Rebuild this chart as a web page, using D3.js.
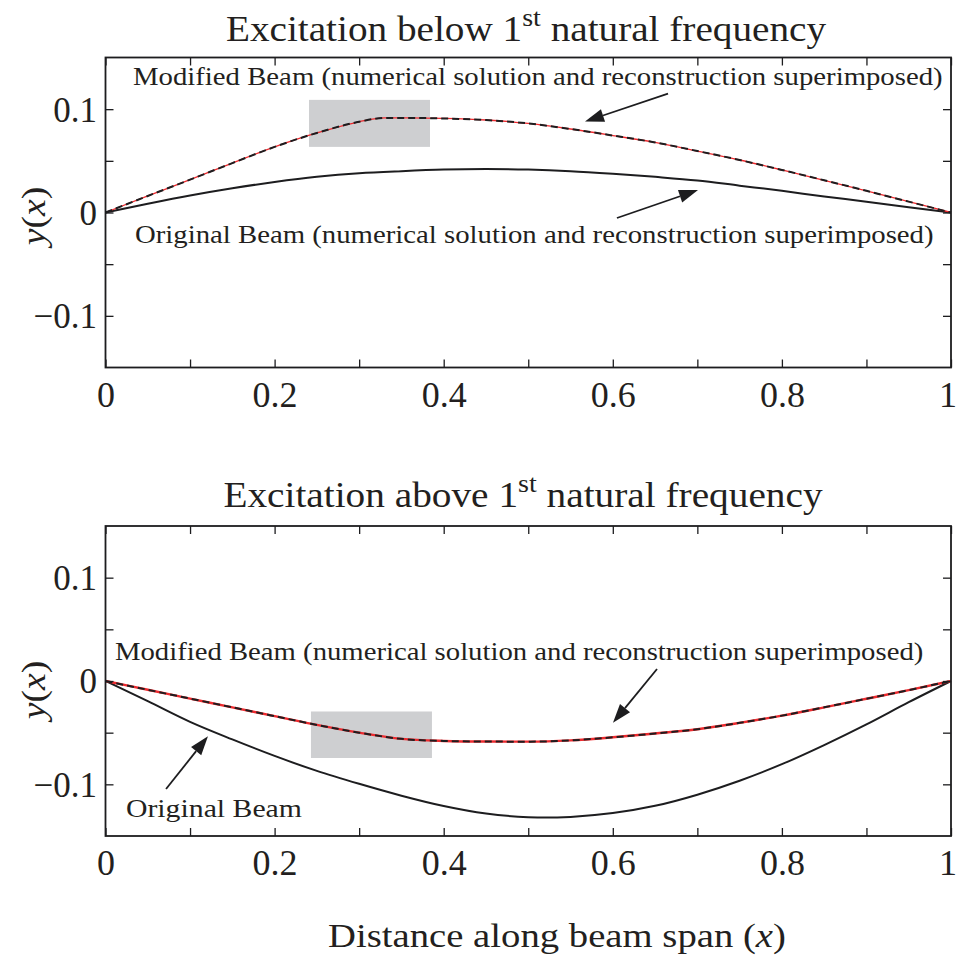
<!DOCTYPE html>
<html>
<head>
<meta charset="utf-8">
<script src="https://cdn.jsdelivr.net/npm/d3@7"></script>
<style>
  body { margin: 0; background: #fff; }
  svg { display: block; }
  text { font-family: "Liberation Serif", "Times New Roman", serif; fill: #231f20; }
</style>
</head>
<body>
<svg id="chart" width="957" height="962"></svg>
<script>
// ---- data -------------------------------------------------------------
// shared span positions (fraction of beam length)
const spanX = [0, 0.05, 0.1, 0.15, 0.2, 0.25, 0.3, 0.35, 0.4, 0.45, 0.5,
               0.55, 0.6, 0.65, 0.7, 0.75, 0.8, 0.85, 0.9, 0.95, 1];

// excitation below the 1st natural frequency
const belowOriginalY = [0, 0.0085, 0.0165, 0.0235, 0.0295, 0.0345, 0.0380, 0.0400, 0.0415, 0.0420, 0.0415,
                        0.0400, 0.0375, 0.0345, 0.0310, 0.0260, 0.0210, 0.0155, 0.0105, 0.0050, 0];
const belowModifiedX = [0, 0.05, 0.1, 0.15, 0.2, 0.25, 0.3, 0.33, 0.36, 0.4, 0.45, 0.5,
                        0.55, 0.6, 0.65, 0.7, 0.75, 0.8, 0.85, 0.9, 0.95, 1];
const belowModifiedY = [0, 0.0160, 0.0318, 0.0478, 0.0635, 0.0770, 0.0878, 0.0915, 0.0915, 0.0910, 0.0895, 0.0862,
                        0.0808, 0.0745, 0.0678, 0.0595, 0.0508, 0.0412, 0.0312, 0.0210, 0.0105, 0];

// excitation above the 1st natural frequency
const aboveOriginalX = [0, 0.05, 0.1, 0.15, 0.2, 0.25, 0.3, 0.35, 0.4, 0.45, 0.5, 0.52,
                        0.55, 0.6, 0.65, 0.7, 0.75, 0.8, 0.85, 0.9, 0.95, 1];
const aboveOriginalY = [0, -0.0195, -0.0395, -0.0565, -0.0725, -0.0870, -0.0995, -0.1110, -0.1210, -0.1283, -0.1318, -0.1322,
                        -0.1315, -0.1278, -0.1208, -0.1100, -0.0965, -0.0805, -0.0620, -0.0420, -0.0205, 0];
const aboveModifiedY = [0, -0.0085, -0.0170, -0.0255, -0.0340, -0.0425, -0.0500, -0.0560, -0.0580, -0.0586, -0.0587,
                        -0.0575, -0.0545, -0.0508, -0.0467, -0.0405, -0.0335, -0.0255, -0.0172, -0.0088, 0];

// modified-segment regions [x0, x1, y0, y1]
const belowSegment = [0.2407, 0.3838, 0.0635, 0.109];
const aboveSegment = [0.2430, 0.3861, -0.0745, -0.0295];

// axes
const xDomain = [0, 1];
const yDomain = [-0.15, 0.15];
const xTickValues = [0, 0.1, 0.2, 0.3, 0.4, 0.5, 0.6, 0.7, 0.8, 0.9, 1];
const xTickLabels = { 0: "0", 0.2: "0.2", 0.4: "0.4", 0.6: "0.6", 0.8: "0.8", 1: "1" };
const yTickValues = [-0.1, -0.05, 0, 0.05, 0.1];
const yTickLabels = { "-0.1": "\u22120.1", "0": "0", "0.1": "0.1" };

// texts
const titles = [["Excitation below 1", "st", " natural frequency"],
                ["Excitation above 1", "st", " natural frequency"]];
const modifiedNote = "Modified Beam (numerical solution and reconstruction superimposed)";
const originalNote = "Original Beam (numerical solution and reconstruction superimposed)";
const originalShort = "Original Beam";

// ---- layout -----------------------------------------------------------
const svg = d3.select("#chart");
const plotLeft = 105.5, plotRight = 951;
const panels = [
  { top: 57.5, bottom: 367.5, titleY: 41, titleX: 526, titleW: 601,
    segment: belowSegment,
    original: spanX.map((x, i) => [x, belowOriginalY[i]]),
    modified: belowModifiedX.map((x, i) => [x, belowModifiedY[i]]),
    redWidth: 1.3,
    notes: [
      { text: modifiedNote, x0: 0.0325, x1: 0.9905, y: 0.1235 },
      { text: originalNote, x0: 0.0349, x1: 0.9799, y: -0.0295 }
    ],
    arrows: [
      { from: [0.6653, 0.1150], to: [0.5671, 0.0880] },
      { from: [0.6049, -0.0053], to: [0.7008, 0.0217] }
    ],
    yLabelY: 216 },
  { top: 526, bottom: 836, titleY: 507, titleX: 523, titleW: 600,
    segment: aboveSegment,
    original: aboveOriginalX.map((x, i) => [x, aboveOriginalY[i]]),
    modified: spanX.map((x, i) => [x, aboveModifiedY[i]]),
    redWidth: 2.4,
    notes: [
      { text: modifiedNote, x0: 0.0112, x1: 0.9681, y: 0.0203 },
      { text: originalShort, x0: 0.0242, x1: 0.2324, y: -0.1317 }
    ],
    arrows: [
      { from: [0.6523, 0.0116], to: [0.6002, -0.0405] },
      { from: [0.0716, -0.1045], to: [0.1212, -0.0535] }
    ],
    yLabelY: 690 }
];

// Place a text run and stretch it horizontally to a given advance width.
function fittedText(parent, opts) {
  const g = parent.append("g")
    .attr("transform", `translate(${opts.x},${opts.y})` + (opts.rotate ? ` rotate(${opts.rotate})` : ""));
  const inner = g.append("g");
  const t = inner.append("text")
    .attr("text-anchor", opts.anchor || "start")
    .style("font-size", opts.size + "px");
  opts.parts.forEach(p => {
    const ts = t.append("tspan").text(p.t);
    if (p.italic) ts.style("font-style", "italic");
    if (p.size) ts.style("font-size", p.size + "px");
    if (p.dy) ts.attr("dy", p.dy);
  });
  const w = t.node().getBBox().width;
  if (opts.width && w > 0) inner.attr("transform", `scale(${opts.width / w},1)`);
  return g;
}

const x = d3.scaleLinear().domain(xDomain).range([plotLeft, plotRight]);
const line = d3.line().x(d => x(d[0])).curve(d3.curveMonotoneX);

panels.forEach((p, pi) => {
  const y = d3.scaleLinear().domain(yDomain).range([p.bottom, p.top]);
  line.y(d => y(d[1]));
  const g = svg.append("g");

  // highlighted modification region
  const s = p.segment;
  g.append("rect")
    .attr("x", x(s[0])).attr("y", y(s[3]))
    .attr("width", x(s[1]) - x(s[0])).attr("height", y(s[2]) - y(s[3]))
    .attr("fill", "#cecfd1");

  // deflection shapes
  g.append("path").datum(p.original)
    .attr("d", line).attr("fill", "none")
    .attr("stroke", "#1d1d1f").attr("stroke-width", 2);
  g.append("path").datum(p.modified)
    .attr("d", line).attr("fill", "none")
    .attr("stroke", "#ee2a2e").attr("stroke-width", p.redWidth);
  g.append("path").datum(p.modified)
    .attr("d", line).attr("fill", "none")
    .attr("stroke", "#1d1d1f").attr("stroke-width", 2)
    .attr("stroke-dasharray", "7,4");

  // axes: ticks on all four sides, pointing inward
  const tickLen = 8;
  const axB = d3.axisBottom(x).tickValues(xTickValues).tickSize(-tickLen)
    .tickFormat(d => xTickLabels[+d.toFixed(1)] || "");
  const axT = d3.axisTop(x).tickValues(xTickValues).tickSize(-tickLen).tickFormat("");
  const axL = d3.axisLeft(y).tickValues(yTickValues).tickSize(-tickLen)
    .tickFormat(d => yTickLabels[String(+d.toFixed(2))] || "");
  const axR = d3.axisRight(y).tickValues(yTickValues).tickSize(-tickLen).tickFormat("");

  const gb = g.append("g").attr("transform", `translate(0,${p.bottom})`).call(axB);
  const gt = g.append("g").attr("transform", `translate(0,${p.top})`).call(axT);
  const gl = g.append("g").attr("transform", `translate(${plotLeft},0)`).call(axL);
  const gr = g.append("g").attr("transform", `translate(${plotRight},0)`).call(axR);
  [gb, gt, gl, gr].forEach(a => {
    a.select(".domain").remove();
    a.selectAll(".tick line").attr("stroke", "#1d1d1f").attr("stroke-width", 1.3);
  });
  gb.selectAll(".tick text")
    .attr("y", 39).attr("dy", null)
    .attr("x", d => (d === 1 ? -3.5 : 0))
    .style("font-size", "36px").style("font-family", "Liberation Serif, serif").attr("fill", "#231f20");
  gl.selectAll(".tick text")
    .attr("x", -8.5).attr("dy", "0.34em")
    .style("font-size", "35px").style("font-family", "Liberation Serif, serif").attr("fill", "#231f20");

  // frame
  g.append("rect")
    .attr("x", plotLeft).attr("y", p.top)
    .attr("width", plotRight - plotLeft).attr("height", p.bottom - p.top)
    .attr("fill", "none").attr("stroke", "#1d1d1f").attr("stroke-width", 1.8);

  // annotation arrows
  p.arrows.forEach(a => {
    const x1 = x(a.from[0]), y1 = y(a.from[1]);
    const x2 = x(a.to[0]), y2 = y(a.to[1]);
    const ang = Math.atan2(y2 - y1, x2 - x1);
    const L = 19, hw = 6.5;
    const bx = x2 - L * Math.cos(ang), by = y2 - L * Math.sin(ang);
    g.append("line")
      .attr("x1", x1).attr("y1", y1).attr("x2", bx).attr("y2", by)
      .attr("stroke", "#1d1d1f").attr("stroke-width", 1.8);
    const nx = -Math.sin(ang), ny = Math.cos(ang);
    g.append("path")
      .attr("d", `M${x2},${y2}L${bx + nx * hw},${by + ny * hw}L${bx - nx * hw},${by - ny * hw}Z`)
      .attr("fill", "#1d1d1f");
  });

  // annotation texts
  p.notes.forEach(n => {
    fittedText(g, { x: x(n.x0), y: y(n.y), size: 26, width: x(n.x1) - x(n.x0),
                    parts: [{ t: n.text }] });
  });

  // title with superscript ordinal
  const tp = titles[pi];
  fittedText(g, { x: p.titleX, y: p.titleY, size: 35, width: p.titleW, anchor: "middle",
    parts: [{ t: tp[0] }, { t: tp[1], size: 25, dy: -15 }, { t: tp[2], dy: 15 }] });

  // y-axis label
  fittedText(g, { x: 45, y: p.yLabelY, size: 34, width: 62, anchor: "middle", rotate: -90,
    parts: [{ t: "y", italic: true }, { t: "(" }, { t: "x", italic: true }, { t: ")" }] });
});

// shared x-axis label
fittedText(svg, { x: 328, y: 947, size: 33, width: 458,
  parts: [{ t: "Distance along beam span (" }, { t: "x", italic: true }, { t: ")" }] });
</script>
</body>
</html>
